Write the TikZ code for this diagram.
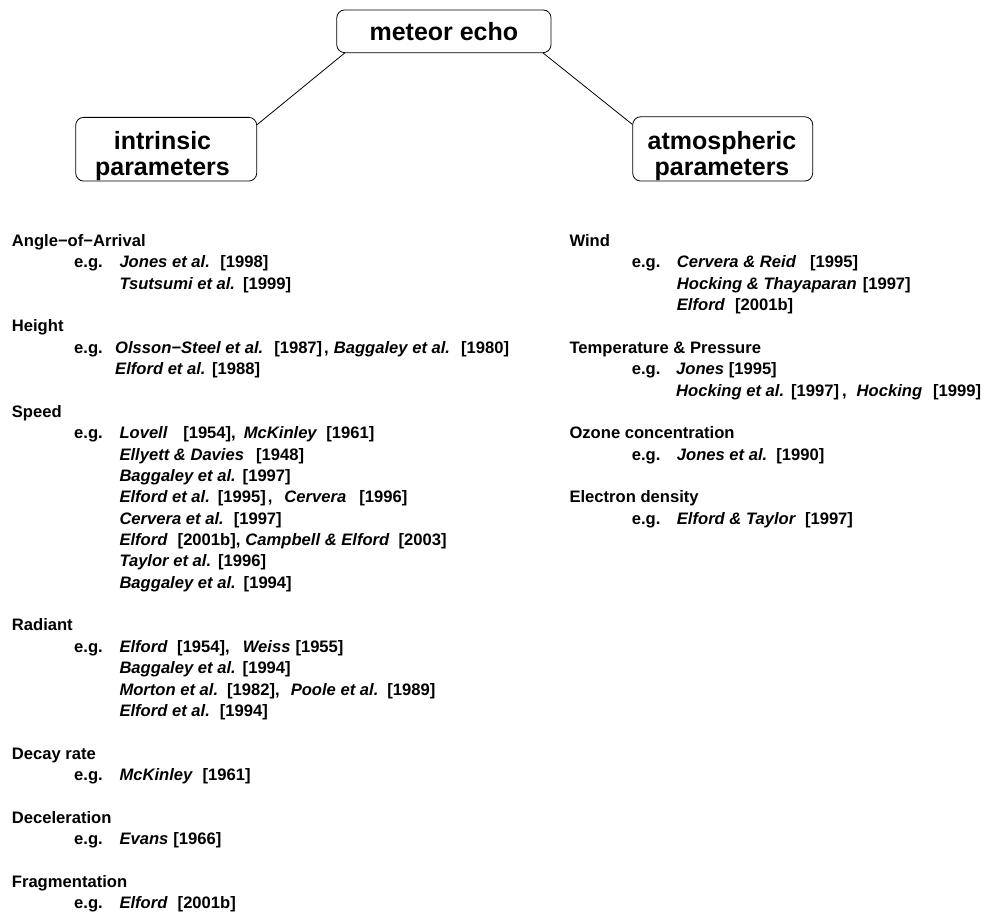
\documentclass[tikz,border=0pt]{standalone}
\usepackage{fontspec}
\setmainfont{Liberation Sans}
\newcommand\nm[1]{\textit{#1}}
\newcommand\gp[1]{\hspace{#1pt}}
\tikzset{
  txt/.style={anchor=base west, inner sep=0pt, font=\fontsize{16.6}{20}\selectfont\bfseries},
  boxshape/.style={draw, line width=0.8pt, rounded corners=8pt, inner sep=0pt},
  boxtext/.style={inner sep=0pt, align=center, font=\fontsize{25}{26}\selectfont\bfseries},
  conn/.style={line width=0.8pt}
}
\begin{document}
\begin{tikzpicture}[x=1pt,y=-1pt]
\useasboundingbox (0,0) rectangle (989,916);
% boxes
\node[boxshape, minimum width=214.3pt, minimum height=42.7pt, font=\fontsize{25}{26}\selectfont\bfseries] (m) at (443.9,31.3) {meteor echo};
\node[boxshape, minimum width=181pt, minimum height=63.7pt] (i) at (166.2,149.2) {};
\node[boxshape, minimum width=180pt, minimum height=64.3pt] (a) at (722.7,148.9) {};
\node[boxtext] (it) at (162.5,156.5) {intrinsic\\parameters};
\node[boxtext] (at) at (722,156.5) {atmospheric\\parameters};
\draw[conn] ([xshift=8.3pt]m.south west) -- ([yshift=-7.7pt]i.north east);
\draw[conn] ([xshift=-8.3pt]m.south east) -- ([yshift=-8pt]a.north west);
% left column
\def\hx{11.7}\def\ex{74}\def\cx{119.3}
\node[txt] (l0) at (\hx,{246.5+21.36*0}) {Angle−of−Arrival};
\node[txt] (l1e) at (\ex,{246.5+21.36*1}) {e.g.};
\node[txt] (l1) at (\cx,{246.5+21.36*1}) {\nm{Jones et al.}\gp{10.5}[1998]};
\node[txt] (l2) at (\cx,{246.5+21.36*2}) {\nm{Tsutsumi et al.}\gp{8}[1999]};
\node[txt] (l4) at (\hx,{246.5+21.36*4}) {Height};
\node[txt] (l5e) at (\ex,{246.5+21.36*5}) {e.g.};
\node[txt] (l5) at (115,{246.5+21.36*5}) {\nm{Olsson−Steel et al.}\gp{11}[1987]\gp{2},\gp{5}\nm{Baggaley et al.}\gp{11}[1980]};
\node[txt] (l6) at (115,{246.5+21.36*6}) {\nm{Elford et al.}\gp{6.5}[1988]};
\node[txt] (l8) at (\hx,{246.5+21.36*8}) {Speed};
\node[txt] (l9e) at (\ex,{246.5+21.36*9}) {e.g.};
\node[txt] (l9) at (\cx,{246.5+21.36*9}) {\nm{Lovell}\gp{15.5}[1954],\gp{8}\nm{McKinley}\gp{9}[1961]};
\node[txt] (l10) at (\cx,{246.5+21.36*10}) {\nm{Ellyett \& Davies}\gp{12}[1948]};
\node[txt] (l11) at (\cx,{246.5+21.36*11}) {\nm{Baggaley et al.}\gp{7}[1997]};
\node[txt] (l12) at (\cx,{246.5+21.36*12}) {\nm{Elford et al.}\gp{8}[1995]\gp{2},\gp{12}\nm{Cervera}\gp{13}[1996]};
\node[txt] (l13) at (\cx,{246.5+21.36*13}) {\nm{Cervera et al.}\gp{10}[1997]};
\node[txt] (l14) at (\cx,{246.5+21.36*14}) {\nm{Elford}\gp{10}[2001b],\gp{5}\nm{Campbell \& Elford}\gp{9}[2003]};
\node[txt] (l15) at (\cx,{246.5+21.36*15}) {\nm{Taylor et al.}\gp{7}[1996]};
\node[txt] (l16) at (\cx,{246.5+21.36*16}) {\nm{Baggaley et al.}\gp{8}[1994]};
\node[txt] (l18) at (\hx,{246.5+21.36*18}) {Radiant};
\node[txt] (l19e) at (\ex,{246.5+21.36*19}) {e.g.};
\node[txt] (l19) at (\cx,{246.5+21.36*19}) {\nm{Elford}\gp{9.5}[1954],\gp{13}\nm{Weiss}\gp{5}[1955]};
\node[txt] (l20) at (\cx,{246.5+21.36*20}) {\nm{Baggaley et al.}\gp{7}[1994]};
\node[txt] (l21) at (\cx,{246.5+21.36*21}) {\nm{Morton et al.}\gp{9}[1982],\gp{11}\nm{Poole et al.}\gp{9}[1989]};
\node[txt] (l22) at (\cx,{246.5+21.36*22}) {\nm{Elford et al.}\gp{10}[1994]};
\node[txt] (l24) at (\hx,{246.5+21.36*24}) {Decay rate};
\node[txt] (l25e) at (\ex,{246.5+21.36*25}) {e.g.};
\node[txt] (l25) at (\cx,{246.5+21.36*25}) {\nm{McKinley}\gp{9.5}[1961]};
\node[txt] (l27) at (\hx,{246.5+21.36*27}) {Deceleration};
\node[txt] (l28e) at (\ex,{246.5+21.36*28}) {e.g.};
\node[txt] (l28) at (\cx,{246.5+21.36*28}) {\nm{Evans}\gp{5}[1966]};
\node[txt] (l30) at (\hx,{246.5+21.36*30}) {Fragmentation};
\node[txt] (l31e) at (\ex,{246.5+21.36*31}) {e.g.};
\node[txt] (l31) at (\cx,{246.5+21.36*31}) {\nm{Elford}\gp{10}[2001b]};
% right column
\def\rhx{569.3}\def\rex{631.7}\def\rcx{676.7}
\node[txt] (r0) at (\rhx,{246.5+21.36*0}) {Wind};
\node[txt] (r1e) at (\rex,{246.5+21.36*1}) {e.g.};
\node[txt] (r1) at (\rcx,{246.5+21.36*1}) {\nm{Cervera \& Reid}\gp{14}[1995]};
\node[txt] (r2) at (\rcx,{246.5+21.36*2}) {\nm{Hocking \& Thayaparan}\gp{6}[1997]};
\node[txt] (r3) at (\rcx,{246.5+21.36*3}) {\nm{Elford}\gp{10}[2001b]};
\node[txt] (r5) at (\rhx,{246.5+21.36*5}) {Temperature \& Pressure};
\node[txt] (r6e) at (\rex,{246.5+21.36*6}) {e.g.};
\node[txt] (r6) at (676,{246.5+21.36*6}) {\nm{Jones} [1995]};
\node[txt] (r7) at (676,{246.5+21.36*7}) {\nm{Hocking et al.}\gp{7}[1997]\gp{3},\gp{10}\nm{Hocking}\gp{11}[1999]};
\node[txt] (r9) at (\rhx,{246.5+21.36*9}) {Ozone concentration};
\node[txt] (r10e) at (\rex,{246.5+21.36*10}) {e.g.};
\node[txt] (r10) at (\rcx,{246.5+21.36*10}) {\nm{Jones et al.}\gp{9}[1990]};
\node[txt] (r12) at (\rhx,{246.5+21.36*12}) {Electron density};
\node[txt] (r13e) at (\rex,{246.5+21.36*13}) {e.g.};
\node[txt] (r13) at (\rcx,{246.5+21.36*13}) {\nm{Elford \& Taylor}\gp{9}[1997]};
\end{tikzpicture}
\end{document}
